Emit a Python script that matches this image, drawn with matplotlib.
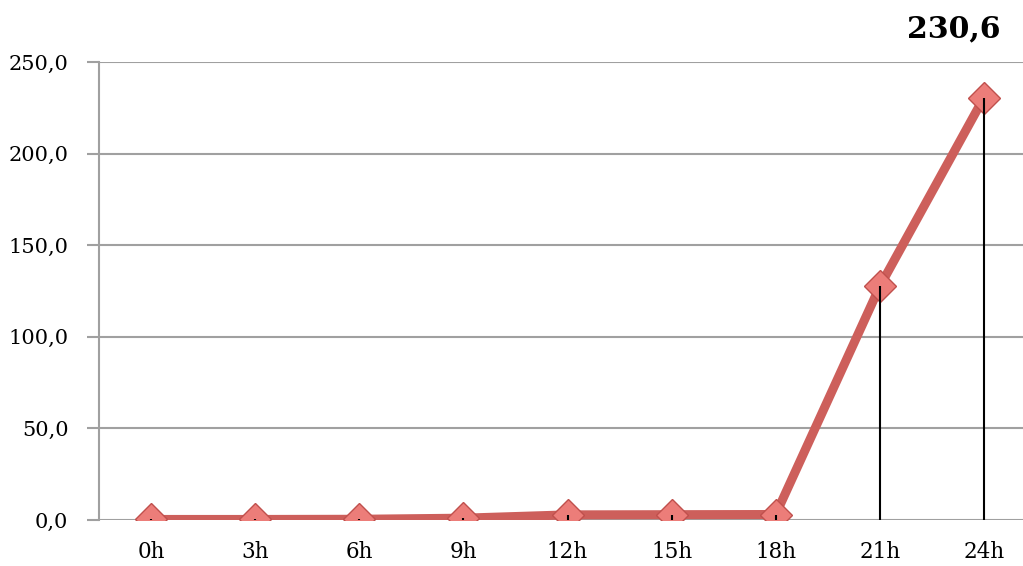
import matplotlib
matplotlib.use("Agg")
import matplotlib.pyplot as plt

categories = ["0h", "3h", "6h", "9h", "12h", "15h", "18h", "21h", "24h"]
values = [0.3, 0.3, 0.4, 1.0, 2.8, 2.9, 3.0, 127.5, 230.6]
yticks = [0, 50, 100, 150, 200, 250]
peak_label = "230,6"

plt.rcParams['font.family'] = ['DejaVu Serif']

W, H = 1023, 566
fig = plt.figure(figsize=(W/100, H/100), dpi=100)
ax = fig.add_axes([99/W, 46/H, 937/W, 458/H])

x = list(range(len(categories)))
grid_c = "#a0a0a0"
for t in yticks:
    ax.axhline(t, color=grid_c, lw=1.5, zorder=1)

ax.plot(x, values, color="#cd5f5b", lw=6.5, solid_capstyle="round", zorder=3)
ax.plot(x, values, ls="none", marker="D", ms=16, mfc="#ec7d79", mec="#c0504d",
        mew=1.0, zorder=4)
ax.vlines(x, 0, values, color="black", lw=1.5, zorder=5)

ax.set_xlim(-0.5, 8.5)
ax.set_ylim(0, 250)
ax.set_xticks(x)
ax.set_xticklabels(categories)
ax.set_yticks(yticks)
ax.set_yticklabels([f"{t:.1f}".replace(".", ",") for t in yticks])
ax.tick_params(axis="x", length=0, pad=15, labelsize=15.5)
ax.tick_params(axis="y", length=9, width=1.5, color=grid_c, pad=13, labelsize=15)
for s in ["top", "right", "bottom"]:
    ax.spines[s].set_visible(False)
ax.spines["left"].set_color(grid_c)
ax.spines["left"].set_linewidth(1.5)

fig.text(954/W, 1 - 29/H, peak_label, ha="center", va="center",
         fontsize=21.5, fontweight="bold")

fig.savefig("out.png", dpi=100)
